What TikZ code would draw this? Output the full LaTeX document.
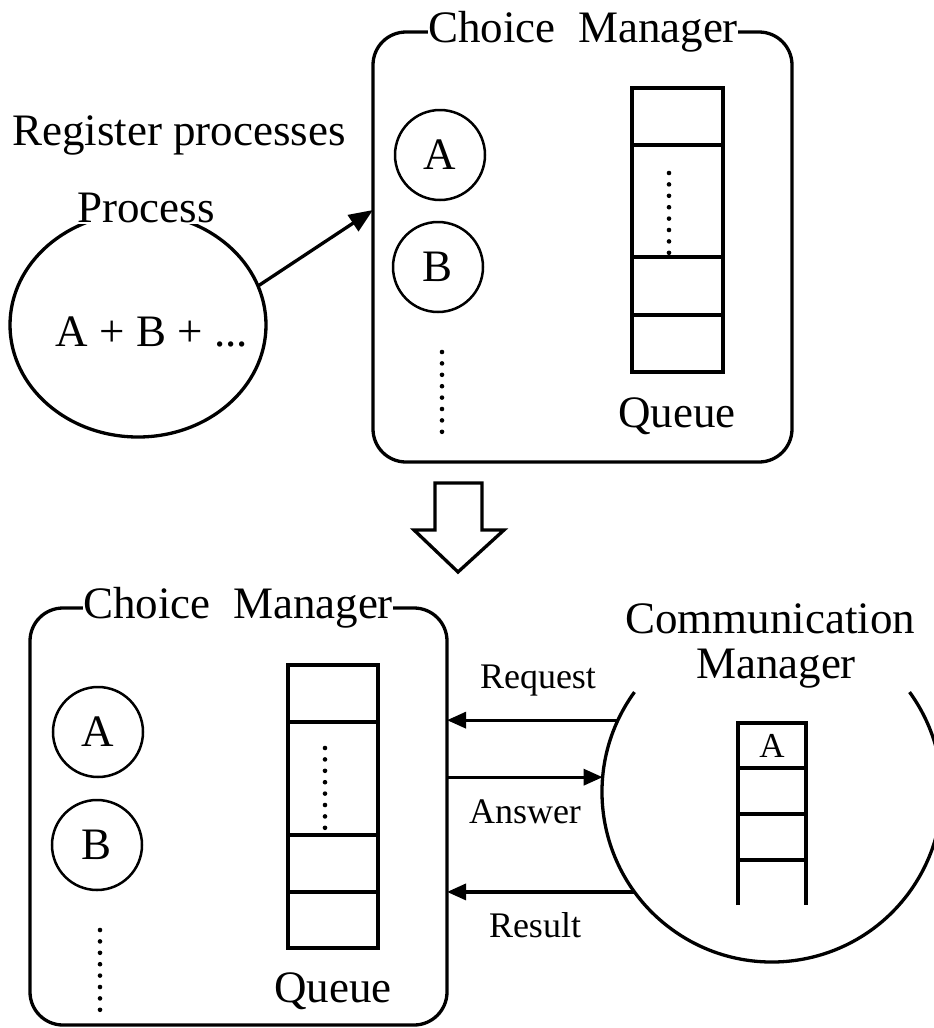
\documentclass[tikz,border=0pt]{standalone}
\usepackage{fontspec}
\setmainfont{Liberation Serif}
\usetikzlibrary{arrows.meta,calc,shapes.geometric}

\tikzset{
  big/.style={font=\fontsize{45}{54}\selectfont},
  small/.style={font=\fontsize{36}{43}\selectfont},
  mgrbox/.style={draw, line width=3.3pt, rounded corners=33pt, inner sep=0pt, outer sep=0pt},
  proc/.style={draw, circle, line width=2.5pt, minimum size=90pt, inner sep=0pt, big},
  title/.style={big, fill=white, inner xsep=0pt, inner ysep=2pt, anchor=base},
  qline/.style={line width=3.3pt},
  vdots/.style={line width=4.6pt, line cap=round, dash pattern=on 0pt off 11.4pt},
  msg/.style={line width=3.3pt, -{Triangle[length=19pt,width=16pt]}},
}

\begin{document}
\begin{tikzpicture}[x=1pt,y=1pt]
\useasboundingbox (0,0) rectangle (934,-1028);

% ---------- upper half: registering processes ----------
\node[big, anchor=base west, inner sep=0pt] (regtext) at (12,-145) {Register processes};

\node[draw, ellipse, line width=3.3pt, minimum width=256pt, minimum height=224pt,
      inner sep=0pt, outer sep=0pt] (process) at (138,-325) {};
\node[title, inner xsep=5pt] (proclabel) at (146,-222) {Process};
\node[big] (sum) at (152,-332) {A + B + ...};

\node[mgrbox, minimum width=419pt, minimum height=430pt] (cm1) at (582.5,-247) {};
\node[title] (cm1title) at (583,-42) {Choice\ \ Manager};

\node[proc] (a1) at (440,-155) {A};
\node[proc] (b1) at (438,-267) {B};
\draw[vdots] (442,-352) -- (442,-432);

% queue of the upper manager
\draw[qline] (632,-88) rectangle (723,-372);
\foreach \y in {-145,-257,-315} \draw[qline] (632,\y) -- (723,\y);
\draw[vdots] (669,-173) -- (669,-253);
\node[big, anchor=base] (q1) at (677,-427) {Queue};

\coordinate (regin) at ($(cm1.west)+(0,37)$);
\draw[line width=3.3pt, -{Triangle[length=24pt,width=19pt]}] (process.18) -- (regin);

% ---------- transition arrow ----------
\draw[line width=3.3pt, line join=miter, fill=white]
  (435,-483) -- (482,-483) -- (482,-530) -- (504,-530) -- (458,-572)
  -- (414,-530) -- (435,-530) -- cycle;

% ---------- lower half: choice and communication ----------
\node[mgrbox, minimum width=417pt, minimum height=417pt] (cm2) at (238.5,-816.5) {};
\node[title] (cm2title) at (238,-618) {Choice\ \ Manager};

\node[proc] (a2) at (98,-732) {A};
\node[proc] (b2) at (97,-845) {B};
\draw[vdots] (100,-930) -- (100,-1010);

\draw[qline] (288,-665) rectangle (378,-948);
\foreach \y in {-722,-835,-892} \draw[qline] (288,\y) -- (378,\y);
\draw[vdots] (325,-748) -- (325,-829);
\node[big, anchor=base] (q2) at (333,-1002) {Queue};

% communication manager
\node[circle, minimum size=340pt, inner sep=0pt, outer sep=0pt] (comm) at (772,-792) {};
\draw[line width=3.3pt] (comm.144) arc[start angle=144, end angle=396, radius=170pt];
\node[big, anchor=base] (commt1) at (770,-633) {Communication};
\node[big, anchor=base] (commt2) at (776,-678) {Manager};

% stack held by the communication manager
\draw[qline] (738,-905) -- (738,-723) -- (806,-723) -- (806,-905);
\foreach \y in {-768,-814,-860} \draw[qline] (738,\y) -- (806,\y);
\node[font=\fontsize{35}{42}\selectfont] (stA) at (772,-746) {A};

% messages
\draw[msg] (comm.155.7) -- (comm.155.7 -| cm2.east);
\draw[msg] (comm.175.3 -| cm2.east) -- (comm.175.3);
\draw[msg] (comm.216.5) -- (comm.216.5 -| cm2.east);
\node[small, anchor=base] (req) at (538,-688) {Request};
\node[small, anchor=base] (ans) at (525,-823) {Answer};
\node[small, anchor=base] (res) at (535,-937) {Result};
\end{tikzpicture}
\end{document}
